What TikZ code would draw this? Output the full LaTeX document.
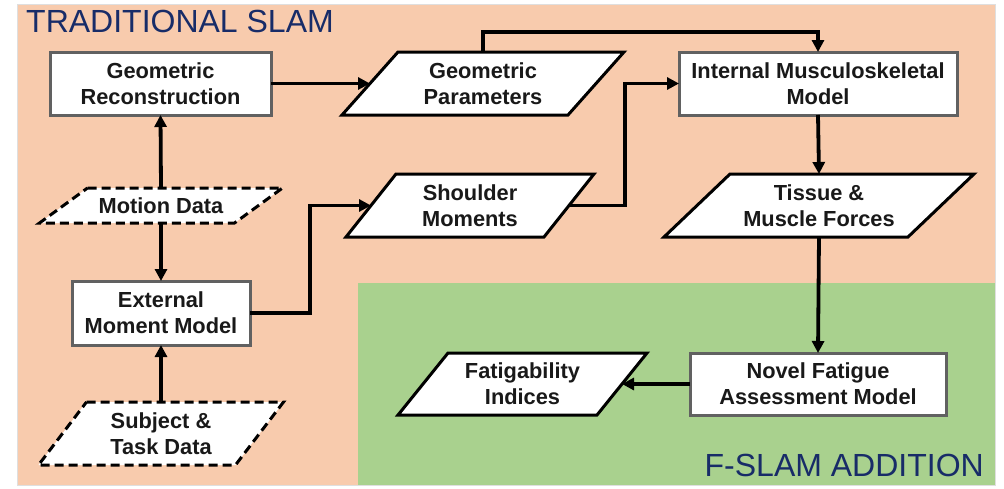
\documentclass[tikz,border=0pt]{standalone}
\usepackage{fontspec}
\setmainfont{Liberation Sans}
\usetikzlibrary{arrows.meta}
\pgfdeclarelayer{bg}
\pgfsetlayers{bg,main}
\definecolor{orangebg}{HTML}{F8CBAD}
\definecolor{greenbg}{HTML}{A9D18E}
\definecolor{navy}{HTML}{182C68}
\newcommand\paraframe[3]{\draw[#1] ([xshift=#3]#2.north west) -- ([xshift=#3]#2.north east) -- ([xshift=-#3]#2.south east) -- ([xshift=-#3]#2.south west) -- cycle;}
\begin{document}
\begin{tikzpicture}[x=1pt,y=-1pt,
  txt/.style={font=\fontsize{21.8}{26}\selectfont\bfseries, align=center, text=black!90, inner sep=0pt, outer sep=0pt},
  rbox/.style={txt, draw=black!62, line width=3pt, fill=white},
  pnode/.style={txt, draw=none},
  pframe/.style={draw=black, line width=3pt, fill=white},
  dframe/.style={pframe, dash pattern=on 9pt off 5pt},
  conn/.style={line width=3.8pt, -{Triangle[length=12pt,width=12pt]}},
  title/.style={font=\fontsize{32}{36}\selectfont, text=navy, inner sep=0pt}]
\useasboundingbox (0,0) rectangle (1004,488);
\begin{pgfonlayer}{bg}
  \fill[white] (0,0) rectangle (1004,488);
  \draw[fill=orangebg, draw=gray!25, line width=1pt] (17,4) rectangle (995,485);
  \fill[greenbg] (358,283) rectangle (995,485);
\end{pgfonlayer}
\node[title, anchor=base west] (t1) at (26,32) {TRADITIONAL SLAM};
\node[title, anchor=base east] (t2) at (984,476) {F-SLAM ADDITION};
% rectangles
\node[rbox, minimum width=221pt, minimum height=63pt] (gr) at (160.5,83.5) {Geometric\\Reconstruction};
\node[rbox, minimum width=278pt, minimum height=63pt] (im) at (818,83.5) {Internal Musculoskeletal\\Model};
\node[rbox, minimum width=178pt, minimum height=64pt] (em) at (161,313) {External\\Moment Model};
\node[rbox, minimum width=256pt, minimum height=62pt] (nf) at (818,384) {Novel Fatigue\\Assessment Model};
% parallelograms
\node[pnode, minimum width=195pt, minimum height=35pt] (md) at (161,205.5) {Motion Data};
\node[pnode, minimum width=226pt, minimum height=63pt] (gp) at (483,83.5) {Geometric\\Parameters};
\node[pnode, minimum width=198pt, minimum height=63pt] (sm) at (470,205.5) {Shoulder\\Moments};
\node[pnode, minimum width=244pt, minimum height=63pt] (tm) at (819,205.5) {Tissue \&\\Muscle Forces};
\node[pnode, minimum width=197pt, minimum height=63pt] (st) at (161,433.5) {Subject \&\\Task Data};
\node[pnode, minimum width=199pt, minimum height=62pt] (fi) at (522.5,384) {Fatigability\\Indices};
\begin{pgfonlayer}{bg}
  \paraframe{dframe}{md}{24pt}
  \paraframe{pframe}{gp}{28pt}
  \paraframe{pframe}{sm}{25pt}
  \paraframe{pframe}{tm}{33pt}
  \paraframe{dframe}{st}{24pt}
  \paraframe{pframe}{fi}{25pt}
\end{pgfonlayer}
% connectors
\draw[conn] (gr.east) -- (gp.west);
\draw[conn] (md.north) -- (gr.south);
\draw[conn] (md.south) -- (em.north);
\draw[conn] (st.north) -- (em.south);
\draw[conn] (em.east) -- ++(60,0) |- (sm.west);
\draw[conn] (gp.north) -- ++(0,-20) -| (im.north);
\draw[conn] (sm.east) -- ++(56,0) |- (im.west);
\draw[conn] (im.south) -- (tm.north);
\draw[conn] (tm.south) -- (nf.north);
\draw[conn] (nf.west) -- (fi.east);
\end{tikzpicture}
\end{document}
